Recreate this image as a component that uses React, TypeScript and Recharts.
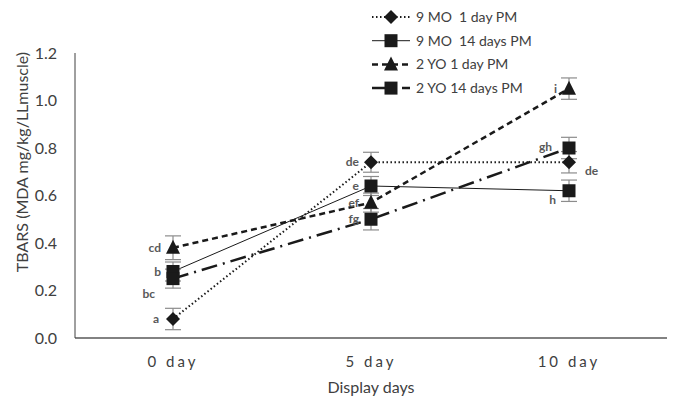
import { ErrorBar, LabelList, Line, LineChart, XAxis, YAxis } from "recharts";

const days = ["0 day", "5 day", "10 day"];

const mo9Day1 = [0.08, 0.74, 0.74];
const mo9Day14 = [0.28, 0.64, 0.62];
const yo2Day1 = [0.38, 0.57, 1.05];
const yo2Day14 = [0.25, 0.5, 0.8];

const mo9Day1Err = [0.045, 0.042, 0.045];
const mo9Day14Err = [0.04, 0.04, 0.045];
const yo2Day1Err = [0.05, 0.04, 0.045];
const yo2Day14Err = [0.04, 0.045, 0.045];

const mo9Day1Letters = ["a", "de", "de"];
const mo9Day14Letters = ["b", "e", "h"];
const yo2Day1Letters = ["cd", "ef", "i"];
const yo2Day14Letters = ["bc", "fg", "gh"];

const yTicks = [0, 0.2, 0.4, 0.6, 0.8, 1.0, 1.2];

const data = days.map((day, i) => ({
  day,
  mo9Day1: mo9Day1[i],
  mo9Day14: mo9Day14[i],
  yo2Day1: yo2Day1[i],
  yo2Day14: yo2Day14[i],
  mo9Day1Err: mo9Day1Err[i],
  mo9Day14Err: mo9Day14Err[i],
  yo2Day1Err: yo2Day1Err[i],
  yo2Day14Err: yo2Day14Err[i],
  mo9Day1Letter: mo9Day1Letters[i],
  mo9Day14Letter: mo9Day14Letters[i],
  yo2Day1Letter: yo2Day1Letters[i],
  yo2Day14Letter: yo2Day14Letters[i],
}));

const FONT = "Lato, 'Open Sans', sans-serif";
const INK = "#1a1a1a";
const TEXT = "#404040";

type Shape = "diamond" | "square" | "triangle";

const series: {
  key: string;
  name: string;
  dash?: string;
  width: number;
  shape: Shape;
}[] = [
  { key: "mo9Day1", name: "9 MO  1 day PM", dash: "1.5 2.5", width: 2, shape: "diamond" },
  { key: "mo9Day14", name: "9 MO  14 days PM", width: 1, shape: "square" },
  { key: "yo2Day1", name: "2 YO 1 day PM", dash: "6 4", width: 2.5, shape: "triangle" },
  { key: "yo2Day14", name: "2 YO 14 days PM", dash: "16 6 2 6", width: 2.5, shape: "square" },
];

// per-label nudges where the letters were moved by hand
const labelNudge: Record<string, { dx: number; dy: number; anchor?: string }> = {
  "mo9Day1-0": { dx: -14, dy: 4 },
  "mo9Day1-2": { dx: 16, dy: 13, anchor: "start" },
  "mo9Day14-2": { dx: -13, dy: 13 },
  "yo2Day14-0": { dx: -18, dy: 19 },
  "yo2Day14-2": { dx: -17, dy: 3 },
};

function marker(shape: Shape, cx: number, cy: number, key?: string | number) {
  if (shape === "diamond") {
    const r = 7;
    return (
      <polygon
        key={key}
        points={`${cx},${cy - r} ${cx + r},${cy} ${cx},${cy + r} ${cx - r},${cy}`}
        fill={INK}
      />
    );
  }
  if (shape === "triangle") {
    const r = 7;
    return (
      <polygon
        key={key}
        points={`${cx},${cy - r - 1} ${cx + r},${cy + r - 1} ${cx - r},${cy + r - 1}`}
        fill={INK}
      />
    );
  }
  return <rect key={key} x={cx - 6.5} y={cy - 6.5} width={13} height={13} fill={INK} />;
}

function makeDot(shape: Shape) {
  return (props: any) => {
    const { cx, cy, index } = props;
    if (cx == null || cy == null) return <g key={index} />;
    return marker(shape, cx, cy, index);
  };
}

function makeLetter(seriesKey: string) {
  return (props: any) => {
    const { x, y, value, index } = props;
    const n = labelNudge[`${seriesKey}-${index}`] ?? { dx: -12, dy: 4 };
    return (
      <text
        key={index}
        x={x + n.dx}
        y={y + n.dy}
        textAnchor={n.anchor ?? "end"}
        fontFamily={FONT}
        fontWeight={700}
        fontSize={12}
        fill="#595959"
      >
        {value}
      </text>
    );
  };
}

function LegendBox() {
  return (
    <svg width={200} height={100} style={{ position: "absolute", left: 370, top: 8 }}>
      {series.map((s, i) => {
        const y = 9 + i * 23.7;
        return (
          <g key={s.key}>
            <line
              x1={2}
              x2={40}
              y1={y}
              y2={y}
              stroke={INK}
              strokeWidth={s.width}
              strokeDasharray={s.dash}
            />
            {marker(s.shape, 21, y)}
            <text
              x={46}
              y={y + 5}
              fontFamily={FONT}
              fontSize={14}
              fill={TEXT}
              style={{ whiteSpace: "pre" }}
            >
              {s.name}
            </text>
          </g>
        );
      })}
    </svg>
  );
}

export default function App() {
  return (
    <div style={{ position: "absolute", left: 0, top: 0, width: 675, height: 401, background: "#fff" }}>
      <LineChart
        width={675}
        height={401}
        data={data}
        margin={{ top: 53, right: 8, bottom: 0, left: 0 }}
      >
        <XAxis
          dataKey="day"
          height={63}
          padding={{ left: 98, right: 98 }}
          axisLine={{ stroke: "#595959", strokeWidth: 1.5 }}
          tickLine={false}
          tickMargin={12}
          tick={{ fontFamily: FONT, fontSize: 15, fill: TEXT, letterSpacing: 3 }}
          label={{
            content: () => (
              <text
                x={371}
                y={393}
                textAnchor="middle"
                fontFamily={FONT}
                fontSize={16}
                fill={TEXT}
              >
                Display days
              </text>
            ),
          }}
        />
        <YAxis
          width={75}
          domain={[0, 1.2]}
          ticks={yTicks}
          interval={0}
          tickFormatter={(v: number) => v.toFixed(1)}
          axisLine={{ stroke: "#404040", strokeWidth: 1 }}
          tickLine={false}
          tickMargin={12}
          tick={{ fontFamily: FONT, fontSize: 16, fill: TEXT }}
          label={{
            content: () => (
              <text
                x={24}
                y={162}
                transform="rotate(-90 24 162)"
                textAnchor="middle"
                dominantBaseline="middle"
                fontFamily={FONT}
                fontSize={16}
                fill={TEXT}
              >
                TBARS (MDA mg/kg/LLmuscle)
              </text>
            ),
          }}
        />
        {series.map((s) => (
          <Line
            key={s.key}
            dataKey={s.key}
            name={s.name}
            stroke={INK}
            strokeWidth={s.width}
            strokeDasharray={s.dash}
            dot={makeDot(s.shape)}
            activeDot={false}
            isAnimationActive={false}
          >
            <ErrorBar
              dataKey={`${s.key}Err`}
              width={8}
              stroke="#8c8c8c"
              strokeWidth={1.2}
              direction="y"
            />
            <LabelList dataKey={`${s.key}Letter`} content={makeLetter(s.key)} />
          </Line>
        ))}
      </LineChart>
      <LegendBox />
    </div>
  );
}
